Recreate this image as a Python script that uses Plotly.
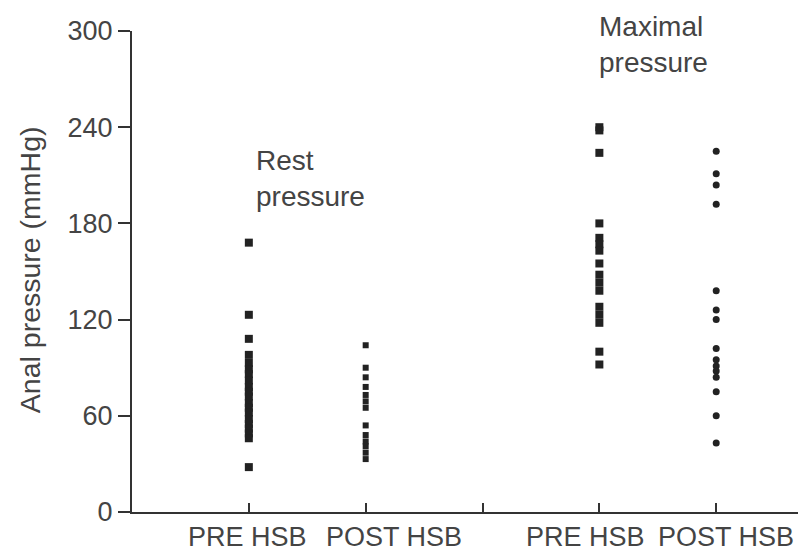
import plotly.graph_objects as go

# ---- data ----
rest_pre = [168, 123, 108, 98, 93, 89, 86, 82, 78, 75, 72, 68, 65, 62, 58, 55, 52, 49, 46, 28]
rest_post = [104, 90, 84, 78, 73, 69, 65, 54, 48, 44, 41, 37, 33]
max_pre = [240, 238, 224, 180, 171, 167, 163, 155, 148, 143, 138, 128, 123, 118, 100, 92]
max_post = [225, 211, 204, 192, 138, 126, 120, 102, 95, 91, 88, 84, 75, 60, 43]

group_pos = [1, 2, 4, 5]
tick_labels = ["PRE HSB", "POST HSB", "PRE HSB", "POST HSB"]
label_pos = [0.99, 2.24, 3.88, 5.08]
y_ticks = [0, 60, 120, 180, 240, 300]

FONT = "Liberation Sans, Arial, sans-serif"
TXT = "#444444"
INK = "#222222"

fig = go.Figure()
series = [rest_pre, rest_post, max_pre, max_post]
symbols = ["square", "square", "square", "circle"]
sizes = [8, 6, 8, 7]
for pos, vals, sym, sz in zip(group_pos, series, symbols, sizes):
    fig.add_trace(go.Scatter(
        x=[pos] * len(vals), y=vals, mode="markers",
        marker=dict(symbol=sym, size=sz, color=INK, line=dict(width=0)),
        showlegend=False, hoverinfo="y",
    ))

annotations = []
for lab, x in zip(tick_labels, label_pos):
    annotations.append(dict(
        x=x, y=-0.052, xref="x", yref="paper", text=lab, showarrow=False,
        xanchor="center", yanchor="middle", font=dict(family=FONT, size=27, color=TXT),
    ))
annotations.append(dict(
    x=1.04, y=0.767, xref="x", yref="paper", text="Rest<br>pressure", showarrow=False,
    xanchor="left", yanchor="top", align="left",
    font=dict(family=FONT, size=28, color=TXT),
))
annotations.append(dict(
    x=3.98, y=1.045, xref="x", yref="paper", text="Maximal<br>pressure", showarrow=False,
    xanchor="left", yanchor="top", align="left",
    font=dict(family=FONT, size=28, color=TXT),
))
annotations.append(dict(
    x=-0.153, y=0.503, xref="paper", yref="paper", text="Anal pressure (mmHg)",
    showarrow=False, textangle=-90, xanchor="center", yanchor="middle",
    font=dict(family=FONT, size=28.5, color=TXT),
))

fig.update_layout(
    width=798, height=553,
    margin=dict(l=132, r=0, t=31, b=41),
    paper_bgcolor="white", plot_bgcolor="white",
    annotations=annotations,
    xaxis=dict(
        range=[0, 5.70], showgrid=False, zeroline=False,
        showline=True, linecolor="#333333", linewidth=2,
        tickvals=[1, 2, 3, 4, 5], ticks="inside", ticklen=9, tickwidth=2,
        tickcolor="#333333", showticklabels=False,
    ),
    yaxis=dict(
        range=[0, 300], showgrid=False, zeroline=False,
        showline=True, linecolor="#333333", linewidth=2,
        tickvals=y_ticks, ticks="outside", ticklen=12, tickwidth=2,
        tickcolor="#333333", tickfont=dict(family=FONT, size=27, color=TXT),
    ),
)

fig.write_html("out.html")
